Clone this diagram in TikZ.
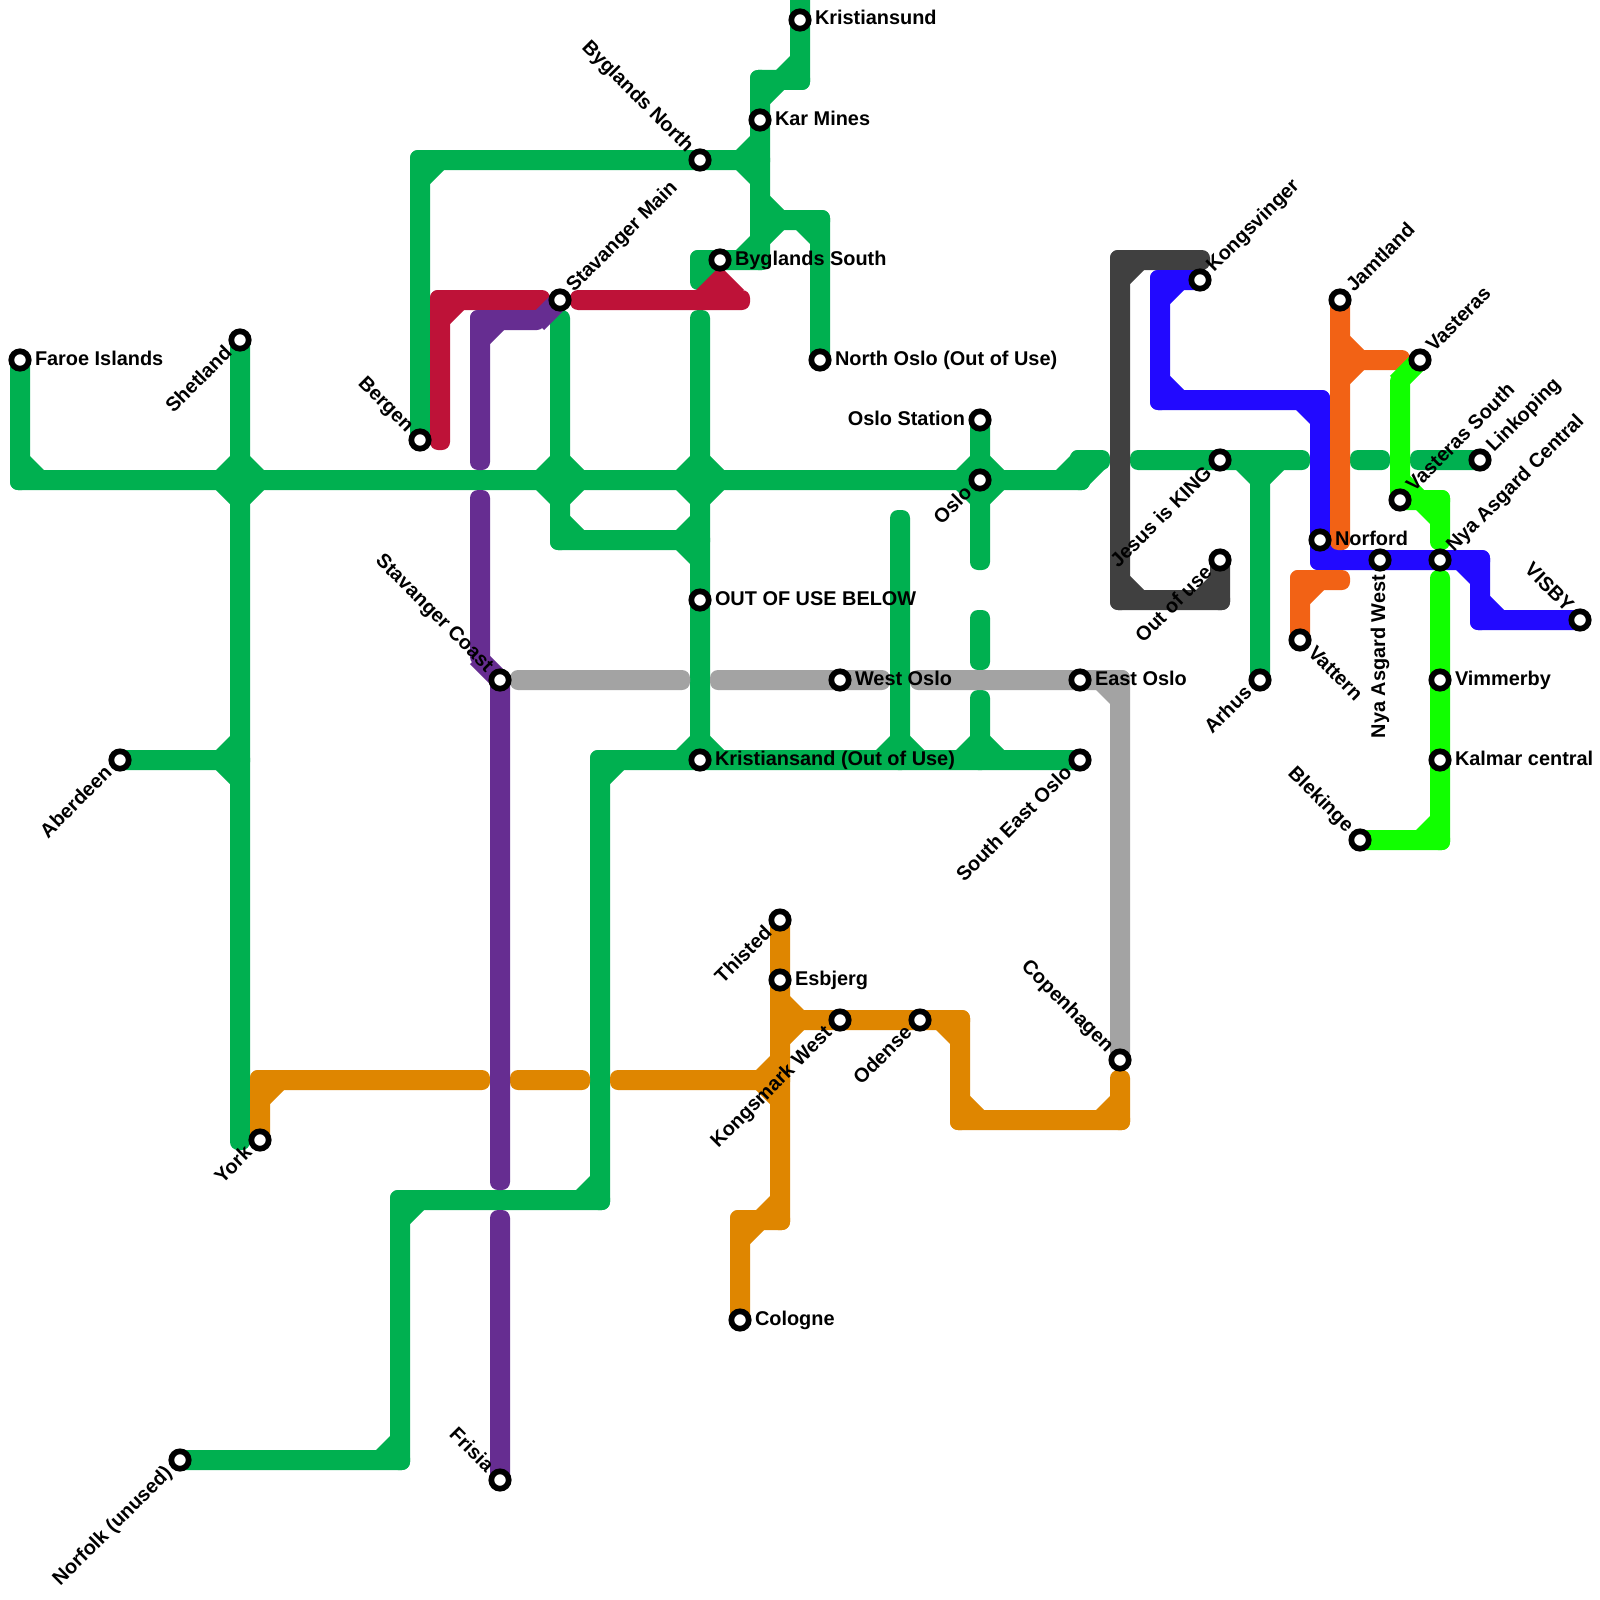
\documentclass[tikz,border=0pt]{standalone}
\usepackage{fontspec}
\setmainfont{Liberation Sans}
\usetikzlibrary{calc,backgrounds}
\definecolor{cGreen}{HTML}{00B050}
\definecolor{cGrey}{HTML}{A3A3A3}
\definecolor{cDark}{HTML}{404040}
\definecolor{cBlue}{HTML}{2209FF}
\definecolor{cOrange}{HTML}{F26215}
\definecolor{cBright}{HTML}{11FF00}
\definecolor{cPurple}{HTML}{662D91}
\definecolor{cRed}{HTML}{BE1238}
\definecolor{cAmber}{HTML}{DF8600}
\tikzset{
  stn/.style={circle,draw=black,fill=white,line width=5.7pt,minimum size=17.4pt,inner sep=0pt,outer sep=0pt},
  lbl/.style={inner sep=0pt,outer sep=0pt,text=black,font=\fontsize{19.9}{22}\selectfont\bfseries},
  seg/.style={rounded corners=8pt,to path={
    ($(\tikztostart)!-10pt!(\tikztotarget)!10pt!90:(\tikztotarget)$) --
    ($(\tikztostart)!-10pt!(\tikztotarget)!-10pt!90:(\tikztotarget)$) --
    ($(\tikztotarget)!-10pt!(\tikztostart)!10pt!90:(\tikztostart)$) --
    ($(\tikztotarget)!-10pt!(\tikztostart)!-10pt!90:(\tikztostart)$) -- cycle}},
  slant/.style={to path={
    ($(\tikztostart)!10pt!90:(\tikztotarget)$) --
    ($(\tikztostart)!-10pt!90:(\tikztotarget)$) --
    ($(\tikztotarget)!10pt!90:(\tikztostart)$) --
    ($(\tikztotarget)!-10pt!90:(\tikztostart)$) -- cycle}}
}
\newcommand\mline[2]{\foreach \u/\v in {#2}{\fill[seg,#1] (\u) to (\v);}}
\newcommand\fil[3]{\foreach \i/\j in {#3}{\fill[#1] (#2) ++(9*\i,9*\j) -- ++(16*\i,0) -- ++(-16*\i,16*\j) -- cycle;}}
\newcommand\labw[3]{\path (#1) ++(#2:15pt) ++(#2-90:5pt) node[lbl,rotate=#2,anchor=base west] (l#1) {#3};}
\newcommand\labe[3]{\path (#1) ++(#2+180:15pt) ++(#2-90:5pt) node[lbl,rotate=#2,anchor=base east] (l#1) {#3};}
\begin{document}
\begin{tikzpicture}[x=1pt,y=-1pt]
\useasboundingbox (0,0) rectangle (1600,1600);
% stations
\foreach \n/\x/\y in {faroe/20/360,shetland/240/340,aberdeen/120/760,york/260/1140,norfolk/180/1460,
  bergen/420/440,stavmain/560/300,stavcoast/500/680,frisia/500/1480,bygnorth/700/160,karmines/760/120,
  kristiansund/800/20,bygsouth/720/260,northoslo/820/360,oslostation/980/420,oslo/980/480,outofuse/700/600,
  westoslo/840/680,eastoslo/1080/680,kristiansand/700/760,seoslo/1080/760,thisted/780/920,esbjerg/780/980,
  kongsmark/840/1020,odense/920/1020,copenhagen/1120/1060,cologne/740/1320,kongsvinger/1200/280,jesus/1220/460,
  outuse/1220/560,arhus/1260/680,jamtland/1340/300,vasteras/1420/360,vastsouth/1400/500,linkoping/1480/460,
  norford/1320/540,nyawest/1380/560,nyacentral/1440/560,visby/1580/620,vattern/1300/640,vimmerby/1440/680,
  kalmar/1440/760,blekinge/1360/840}
  {\node[stn] (\n) at (\x,\y) {};}
% bends and free line ends
\foreach \x/\y in {20/480,240/480,560/480,700/480,1080/480,1080/460,1100/460,240/1140,240/760,420/160,760/160,
  800/0,800/80,760/80,760/260,700/260,700/280,760/220,820/220,560/320,560/540,700/540,700/320,600/760,600/1200,
  400/1200,400/1460,900/520,900/760,980/560,980/620,980/660,980/700,980/760,1140/460,1300/460,1260/460,1360/460,
  1380/460,1420/460,1120/260,1200/260,1120/600,1220/600,520/680,680/680,720/680,880/680,920/680,1120/680,
  1160/280,1160/400,1320/400,1320/560,1480/560,1480/620,1340/540,1340/360,1400/360,1300/580,1340/580,
  1397/383,1400/383,1400/500,1440/500,1440/540,1440/580,1440/840,260/1080,480/1080,520/1080,580/1080,620/1080,
  780/1080,780/1220,740/1220,780/1020,960/1020,960/1120,1120/1120,1120/1080,480/320,535/320,537/323,480/460,
  480/500,480/655,477/657,500/1180,500/1220,440/440,440/300,540/300,580/300,740/300,720/266,696/290,744/290}
  {\coordinate (p\x-\y) at (\x,\y);}
\begin{scope}[on background layer]
\fill[white] (0,0) rectangle (1600,1600);
% green lines
\mline{cGreen}{faroe/p20-480,p20-480/p1080-480,p1080-480/p1080-460,p1080-460/p1100-460,
  shetland/p240-1140,aberdeen/p240-760,bergen/p420-160,p420-160/p760-160,
  p800-0/p800-80,p800-80/p760-80,p760-80/p760-260,p760-260/p700-260,p700-260/p700-280,
  p760-220/p820-220,p820-220/northoslo,p560-320/p560-540,p560-540/p700-540,p700-320/kristiansand,
  p600-760/seoslo,p600-760/p600-1200,p600-1200/p400-1200,p400-1200/p400-1460,p400-1460/norfolk,
  p900-520/p900-760,oslostation/p980-560,p980-620/p980-660,p980-700/p980-760,
  p1140-460/p1300-460,p1260-460/arhus,p1360-460/p1380-460,p1420-460/linkoping}
\fil{cGreen}{p20-480}{1/-1}
\fil{cGreen}{p240-480}{1/1,1/-1,-1/1,-1/-1}
\fil{cGreen}{p560-480}{1/1,1/-1,-1/1,-1/-1}
\fil{cGreen}{p700-480}{1/1,1/-1,-1/1,-1/-1}
\fil{cGreen}{oslo}{1/1,1/-1,-1/1,-1/-1}
\fil{cGreen}{p1080-480}{-1/-1}
\fil{cGreen}{p1080-460}{1/1}
\fil{cGreen}{p240-760}{-1/-1,-1/1}
\fil{cGreen}{p420-160}{1/1}
\fil{cGreen}{p760-160}{-1/-1,-1/1}
\fil{cGreen}{p800-80}{-1/-1}
\fil{cGreen}{p760-80}{1/1}
\fil{cGreen}{p760-220}{1/-1,1/1}
\fil{cGreen}{p820-220}{-1/1}
\fil{cGreen}{p760-260}{-1/-1}
\fil{cGreen}{p700-260}{1/1}
\fil{cGreen}{p560-540}{1/-1}
\fil{cGreen}{p700-540}{-1/-1,-1/1}
\fil{cGreen}{kristiansand}{-1/-1,1/-1}
\fil{cGreen}{p600-760}{1/1}
\fil{cGreen}{p600-1200}{-1/-1}
\fil{cGreen}{p400-1200}{1/1}
\fil{cGreen}{p400-1460}{-1/-1}
\fil{cGreen}{p900-760}{-1/-1,1/-1}
\fil{cGreen}{p980-760}{-1/-1,1/-1}
\fil{cGreen}{p1260-460}{-1/1,1/1}
% grey
\mline{cGrey}{p520-680/p680-680,p720-680/p880-680,p920-680/p1120-680,p1120-680/copenhagen}
\fil{cGrey}{p1120-680}{-1/1}
% dark
\mline{cDark}{p1200-260/p1120-260,p1120-260/p1120-600,p1120-600/p1220-600,p1220-600/outuse}
\fil{cDark}{p1120-260}{1/1}
\fil{cDark}{p1120-600}{1/-1}
\fil{cDark}{p1220-600}{-1/-1}
% blue
\mline{cBlue}{kongsvinger/p1160-280,p1160-280/p1160-400,p1160-400/p1320-400,p1320-400/p1320-560,
  p1320-560/p1480-560,p1480-560/p1480-620,p1480-620/visby}
\fil{cBlue}{p1160-280}{1/1}
\fil{cBlue}{p1160-400}{1/-1}
\fil{cBlue}{p1320-400}{-1/1}
\fil{cBlue}{p1320-560}{1/-1}
\fil{cBlue}{p1480-560}{-1/1}
\fil{cBlue}{p1480-620}{1/-1}
% orange
\mline{cOrange}{jamtland/p1340-540,p1340-360/p1400-360,vattern/p1300-580,p1300-580/p1340-580}
\fil{cOrange}{p1340-360}{1/-1,1/1}
\fil{cOrange}{p1300-580}{1/1}
% bright green
\fill[cBright,slant] (vasteras) to (p1397-383);
\mline{cBright}{p1400-383/p1400-500,vastsouth/p1440-500,p1440-500/p1440-540,p1440-580/p1440-840,p1440-840/blekinge}
\fil{cBright}{p1400-500}{1/-1}
\fil{cBright}{p1440-500}{-1/1}
\fil{cBright}{p1440-840}{-1/-1}
% amber
\mline{cAmber}{york/p260-1080,p260-1080/p480-1080,p520-1080/p580-1080,p620-1080/p780-1080,
  thisted/p780-1220,p780-1220/p740-1220,p740-1220/cologne,p780-1020/p960-1020,p960-1020/p960-1120,
  p960-1120/p1120-1120,p1120-1120/p1120-1080}
\fil{cAmber}{p260-1080}{1/1}
\fil{cAmber}{p780-1080}{-1/-1,-1/1}
\fil{cAmber}{p780-1220}{-1/-1}
\fil{cAmber}{p740-1220}{1/1}
\fil{cAmber}{p780-1020}{1/-1,1/1}
\fil{cAmber}{p960-1020}{-1/1}
\fil{cAmber}{p960-1120}{1/-1}
\fil{cAmber}{p1120-1120}{-1/-1}
% red
\mline{cRed}{p440-440/p440-300,p440-300/p540-300,p580-300/p740-300}
\fil{cRed}{p440-300}{1/1}
\fill[cRed] (p696-290) -- (p720-266) -- (p744-290) -- cycle;
% purple
\mline{cPurple}{p480-460/p480-320,p480-320/p535-320,p480-500/p480-655,stavcoast/p500-1180,p500-1220/frisia}
\fil{cPurple}{p480-320}{1/1}
\fill[cPurple,slant] (p537-323) to (stavmain);
\fill[cPurple,slant] (p477-657) to (stavcoast);
\end{scope}
% labels
\labw{faroe}{0}{Faroe Islands}
\labe{shetland}{45}{Shetland}
\labe{aberdeen}{45}{Aberdeen}
\labe{york}{45}{York}
\labe{norfolk}{45}{Norfolk (unused)}
\labe{bergen}{-45}{Bergen}
\labw{stavmain}{45}{Stavanger Main}
\labe{stavcoast}{-45}{Stavanger Coast}
\labe{frisia}{-45}{Frisia}
\labe{bygnorth}{-45}{Byglands North}
\labw{karmines}{0}{Kar Mines}
\labw{kristiansund}{0}{Kristiansund}
\labw{bygsouth}{0}{Byglands South}
\labw{northoslo}{0}{North Oslo (Out of Use)}
\labe{oslostation}{0}{Oslo Station}
\labe{oslo}{45}{Oslo}
\labw{outofuse}{0}{OUT OF USE BELOW}
\labw{westoslo}{0}{West Oslo}
\labw{eastoslo}{0}{East Oslo}
\labw{kristiansand}{0}{Kristiansand (Out of Use)}
\labe{seoslo}{45}{South East Oslo}
\labe{thisted}{45}{Thisted}
\labw{esbjerg}{0}{Esbjerg}
\labe{kongsmark}{45}{Kongsmark West}
\labe{odense}{45}{Odense}
\labe{copenhagen}{-45}{Copenhagen}
\labw{cologne}{0}{Cologne}
\labw{kongsvinger}{45}{Kongsvinger}
\labe{jesus}{45}{Jesus is KING}
\labe{outuse}{45}{Out of use}
\labe{arhus}{45}{Arhus}
\labw{jamtland}{45}{Jamtland}
\labw{vasteras}{45}{Vasteras}
\labw{vastsouth}{45}{Vasteras South}
\labw{linkoping}{45}{Linkoping}
\labw{norford}{0}{Norford}
\labe{nyawest}{90}{Nya Asgard West}
\labw{nyacentral}{45}{Nya Asgard Central}
\labe{visby}{-45}{VISBY}
\labw{vattern}{-45}{Vattern}
\labw{vimmerby}{0}{Vimmerby}
\labw{kalmar}{0}{Kalmar central}
\labe{blekinge}{-45}{Blekinge}
\end{tikzpicture}
\end{document}
